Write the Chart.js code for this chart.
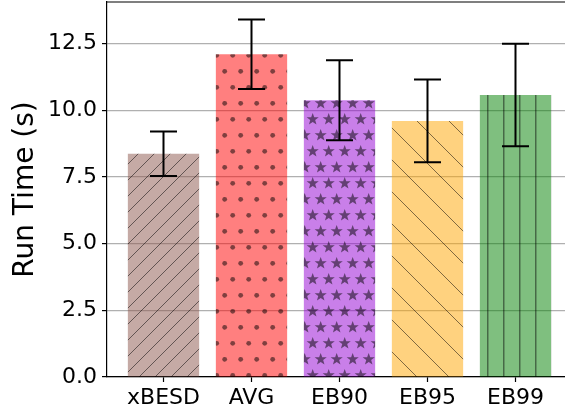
<!DOCTYPE html>
<html>
<head>
<meta charset="utf-8">
<script src="https://cdn.jsdelivr.net/npm/chart.js@4"></script>
<style>
  html, body { margin: 0; padding: 0; background: #fff; }
  canvas { display: block; }
</style>
</head>
<body>
<canvas id="grafico" width="565" height="413"></canvas>
<script>
// Dados do gráfico
const metodos = ['xBESD', 'AVG', 'EB90', 'EB95', 'EB99'];
const tempoMedio = [8.37, 12.1, 10.38, 9.6, 10.57];
const desvio = [0.83, 1.3, 1.5, 1.55, 1.92];
const ticksY = [0, 2.5, 5, 7.5, 10, 12.5];

// cores base (aplicadas com alpha 0.5, como no matplotlib)
const coresBase = ['140,86,75', '255,0,0', '148,0,211', '255,165,0', '0,128,0'];
const hachuras = ['//', '.', '*', '\\', '|'];

const corTraco = 'rgba(0,0,0,0.5)';

function estrela(ctx, cx, cy, rExt, rInt) {
    ctx.beginPath();
    for (let k = 0; k < 10; k++) {
        const r = k % 2 === 0 ? rExt : rInt;
        const a = -Math.PI / 2 + k * Math.PI / 5;
        const px = cx + r * Math.cos(a), py = cy + r * Math.sin(a);
        if (k === 0) ctx.moveTo(px, py); else ctx.lineTo(px, py);
    }
    ctx.closePath();
    ctx.fill();
}

// Cria o padrão de hachura para cada barra
function criarPadrao(rgb, tipo) {
    let w = 16, h = 16;
    if (tipo === '\\') { w = 32; h = 32; }
    if (tipo === '.' || tipo === '*') { w = 16; h = 32; }
    const c = document.createElement('canvas');
    c.width = w; c.height = h;
    const g = c.getContext('2d');
    g.fillStyle = `rgba(${rgb},0.5)`;
    g.fillRect(0, 0, w, h);
    g.strokeStyle = corTraco;
    g.fillStyle = corTraco;
    g.lineWidth = 1;

    if (tipo === '//') {
        g.beginPath();
        for (let k = -1; k <= 2; k++) {
            const c0 = 4 + k * 16;
            g.moveTo(c0 + 2, -2);
            g.lineTo(c0 - 18, 18);
        }
        g.stroke();
    } else if (tipo === '\\') {
        g.beginPath();
        for (let k = -1; k <= 1; k++) {
            const x0 = 8 + k * 32;
            g.moveTo(x0 - 2, -2);
            g.lineTo(x0 + 34, 34);
        }
        g.stroke();
    } else if (tipo === '|') {
        g.fillStyle = 'rgba(0,0,0,0.45)';
        g.fillRect(7, 0, 1.5, h);
    } else if (tipo === '.') {
        [[8.7, 23.3], [0.7, 7.3], [16.7, 7.3]].forEach(([x, y]) => {
            g.beginPath();
            g.arc(x, y, 2.4, 0, Math.PI * 2);
            g.fill();
        });
    } else if (tipo === '*') {
        [[8.7, 23.3], [-7.3, 23.3], [24.7, 23.3], [0.7, 7.3], [16.7, 7.3], [0.7, 39.3], [16.7, 39.3], [8.7, -8.7]].forEach(([x, y]) => {
            estrela(g, x, y, 6.4, 2.6);
        });
    }
    return g.createPattern(c, 'repeat');
}

const padroes = coresBase.map((rgb, i) => criarPadrao(rgb, hachuras[i]));

// barras de erro desenhadas sobre as barras
const barrasErro = {
    id: 'barrasErro',
    afterDatasetsDraw(chart) {
        const { ctx, scales: { x, y } } = chart;
        ctx.save();
        ctx.strokeStyle = '#000';
        ctx.lineWidth = 2;
        tempoMedio.forEach((v, i) => {
            const cx = x.getPixelForValue(i);
            const topo = y.getPixelForValue(v + desvio[i]);
            const base = y.getPixelForValue(v - desvio[i]);
            ctx.beginPath();
            ctx.moveTo(cx, topo); ctx.lineTo(cx, base);
            ctx.moveTo(cx - 13.5, topo); ctx.lineTo(cx + 13.5, topo);
            ctx.moveTo(cx - 13.5, base); ctx.lineTo(cx + 13.5, base);
            ctx.stroke();
        });
        ctx.restore();
    },
    afterDraw(chart) {
        // linha superior da moldura
        const { ctx, chartArea: a } = chart;
        ctx.save();
        ctx.strokeStyle = '#000';
        ctx.lineWidth = 1.2;
        ctx.beginPath();
        ctx.moveTo(a.left, a.top);
        ctx.lineTo(a.right, a.top);
        ctx.stroke();
        ctx.restore();
    }
};

const fonte = { family: 'DejaVu Sans', size: 22 };

new Chart(document.getElementById('grafico'), {
    type: 'bar',
    data: {
        datasets: [{
            data: tempoMedio.map((v, i) => ({ x: i, y: v })),
            backgroundColor: padroes,
            borderWidth: 0,
            barPercentage: 0.81,
            categoryPercentage: 1
        }]
    },
    options: {
        responsive: false,
        animation: false,
        devicePixelRatio: 1,
        layout: { padding: { top: 2, left: 0, right: 0, bottom: 0 } },
        plugins: { legend: { display: false }, tooltip: { enabled: false } },
        scales: {
            x: {
                type: 'linear',
                offset: false,
                min: -0.642,
                max: 4.5625,
                afterFit: (s) => { s.height = 36; s.paddingLeft = 0; s.paddingRight = 0; },
                afterBuildTicks: (s) => { s.ticks = metodos.map((_, i) => ({ value: i })); },
                ticks: {
                    color: '#000',
                    font: fonte,
                    padding: 3,
                    maxRotation: 0,
                    autoSkip: false,
                    callback: (v) => metodos[v] ?? ''
                },
                grid: { display: true, offset: false, drawOnChartArea: false, drawTicks: true, tickLength: 5, tickColor: '#000', tickWidth: 1.2 },
                border: { color: '#000', width: 1.2 }
            },
            y: {
                min: 0,
                max: 14.06,
                afterFit: (s) => { s.width = 107; s.paddingTop = 0; s.paddingBottom = 0; },
                afterBuildTicks: (s) => { s.ticks = ticksY.map(v => ({ value: v })); },
                ticks: {
                    color: '#000',
                    font: fonte,
                    padding: 5,
                    callback: (v) => v.toFixed(1)
                },
                grid: { color: '#b0b0b0', lineWidth: 1.2, tickColor: '#000', tickLength: 5, tickWidth: 1.2 },
                border: { color: '#000', width: 1.2 },
                title: {
                    display: true,
                    text: 'Run Time (s)',
                    color: '#000',
                    font: { family: 'DejaVu Sans', size: 28 },
                    padding: { top: 9, bottom: 0 }
                }
            }
        }
    },
    plugins: [barrasErro]
});
</script>
</body>
</html>
